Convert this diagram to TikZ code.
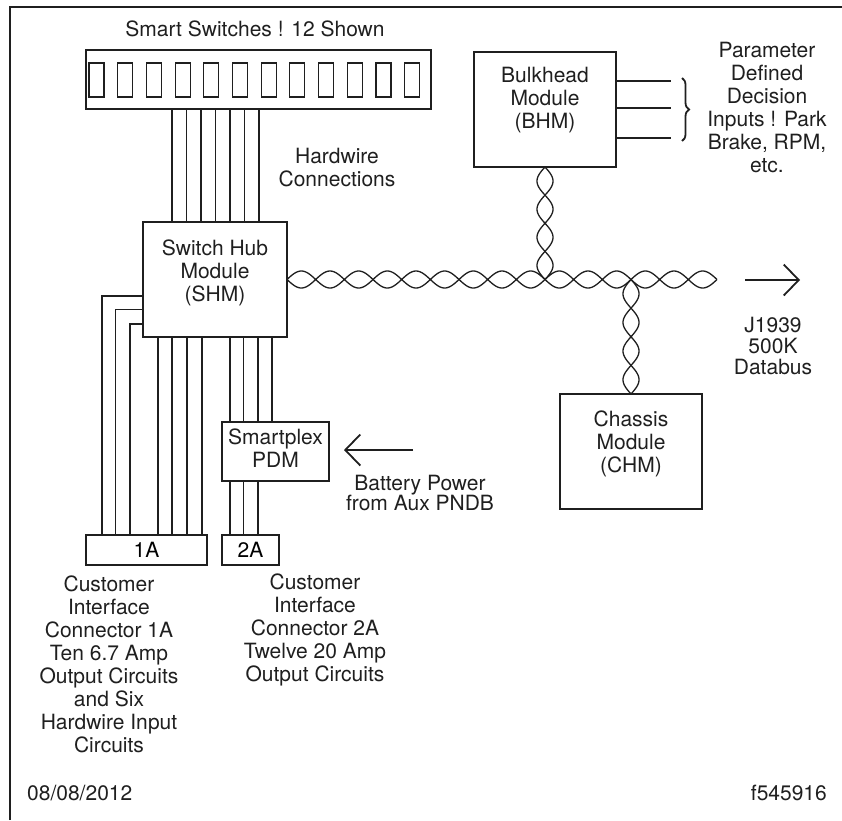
\documentclass[tikz,border=0pt]{standalone}
\usepackage{fontspec}
\setmainfont{TeX Gyre Heros}
\usetikzlibrary{arrows.meta,positioning,decorations.pathreplacing}

\begin{document}
\begin{tikzpicture}[
  x=1pt, y=-1pt,
  font=\fontsize{21}{23}\selectfont,
  box/.style={draw=black!88, line width=2pt, inner sep=0pt, outer sep=0pt},
  key/.style={draw=black!88, line width=1.1pt, minimum width=15pt, minimum height=34pt, inner sep=0pt},
  wire/.style={draw=black!88, line width=1.3pt},
  twist/.style={draw=black!88, line width=1.3pt},
  feed/.style={draw=black!88, line width=1.8pt, -{Straight Barb[length=15pt, width=31pt]}},
  txt/.style={align=center, text=black!88, inner sep=0pt},
  brace/.style={draw=black!88, decorate, decoration={brace, amplitude=7pt}, line width=1.8pt}
]
\useasboundingbox (0,0) rectangle (842,820);
\draw[draw=black!88, line width=1.5pt] (10,820) -- (10,7) -- (842,7);

% switch panel
\node[txt] (panellabel) at (255,29) {Smart Switches ! 12 Shown};
\node[box, minimum width=345pt, minimum height=59pt] (panel) at (258.5,79.5) {};
\foreach \i in {0,...,11}
  \node[key] (key\i) at ({96.5+\i*28.7},80) {};

% modules
\node[box, minimum width=144pt, minimum height=115pt] (shm) at (215,279.5) {};
\node[txt] (shmtext) at ([yshift=7pt]shm.center) {Switch Hub\\Module\\(SHM)};
\node[box, minimum width=142pt, minimum height=115pt] (bhm) at (545,109.5) {};
\node[txt] (bhmtext) at ([yshift=9pt]bhm.center) {Bulkhead\\Module\\(BHM)};
\node[box, minimum width=142pt, minimum height=115pt] (chm) at (631,451.5) {};
\node[txt] (chmtext) at ([yshift=7.5pt]chm.center) {Chassis\\Module\\(CHM)};
\node[box, minimum width=107pt, minimum height=59pt] (pdm) at (275.5,451.5) {};
\node[txt] (pdmtext) at ([yshift=3pt]pdm.center) {Smartplex\\PDM};
\node[box, minimum width=121pt, minimum height=30pt] (c1a) at (146.5,550) {1A};
\node[box, minimum width=57pt, minimum height=30pt] (c2a) at (250.5,550) {2A};

% hardwire connections
\foreach \x in {172,186.5,201,215.5,230,244.5,259}
  \draw[wire] (\x,0 |- panel.south) -- (\x,0 |- shm.north);
\node[txt] (hwlabel) at (337,167.5) {Hardwire\\Connections};

\foreach \y/\x in {296/102,309.5/115.5,324/130}
  \draw[wire] (shm.west |- 0,\y) -| (\x,0 |- c1a.north);
\foreach \x in {158,172,187,202}
  \draw[wire] (\x,0 |- shm.south) -- (\x,0 |- c1a.north);
\foreach \x in {230,243.5,258,272}
  \draw[wire] (\x,0 |- shm.south) -- (\x,0 |- pdm.north);
\foreach \x in {230,243.5,258}
  \draw[wire] (\x,0 |- pdm.south) -- (\x,0 |- c2a.north);

% battery feed
\coordinate (battail) at (413,450);
\coordinate (battip) at (344,450);
\draw[feed] (battail) -- (battip);
\node[txt, font=\fontsize{21}{19.5}\selectfont] (battext) at (420,493) {Battery Power\\from Aux PNDB};

% databus
\draw[twist, shift={(shm.east)}]
  plot[domain=0:430, samples=301] (\x, {8.5*sin(\x*6.279)})
  plot[domain=0:430, samples=301] (\x, {-8.5*sin(\x*6.279)});
\draw[twist, shift={(bhm.south)}]
  plot[domain=0:112.5, samples=121] ({8*sin(\x*6.4)}, \x)
  plot[domain=0:112.5, samples=121] ({-8*sin(\x*6.4)}, \x);
\draw[twist, shift={(chm.north)}]
  plot[domain=0:114.5, samples=121] ({8*sin(\x*6.288)}, -\x)
  plot[domain=0:114.5, samples=121] ({-8*sin(\x*6.288)}, -\x);
\coordinate (bustail) at (745,280);
\coordinate (bustip) at (800,280);
\draw[feed] (bustail) -- (bustip);
\node[txt, font=\fontsize{21}{21}\selectfont] (bustext) at (773,346) {J1939\\500K\\Databus};

% decision inputs
\foreach \y in {81,108,138}
  \draw[wire] (bhm.east |- 0,\y) -- (671,\y);
\draw[brace] (682,78) -- (682,141);
\node[txt] (inputtext) at (767,107.5) {Parameter\\Defined\\Decision\\Inputs ! Park\\Brake, RPM,\\etc.};

% connector notes
\node[txt] (c1atext) at (109,664) {Customer\\Interface\\Connector 1A\\Ten 6.7 Amp\\Output Circuits\\and Six\\Hardwire Input\\Circuits};
\node[txt] (c2atext) at (315,629.5) {Customer\\Interface\\Connector 2A\\Twelve 20 Amp\\Output Circuits};

% footer
\node[txt, anchor=west] (date) at (27,793) {08/08/2012};
\node[txt, anchor=east] (fig) at (827,793) {f545916};
\end{tikzpicture}
\end{document}
